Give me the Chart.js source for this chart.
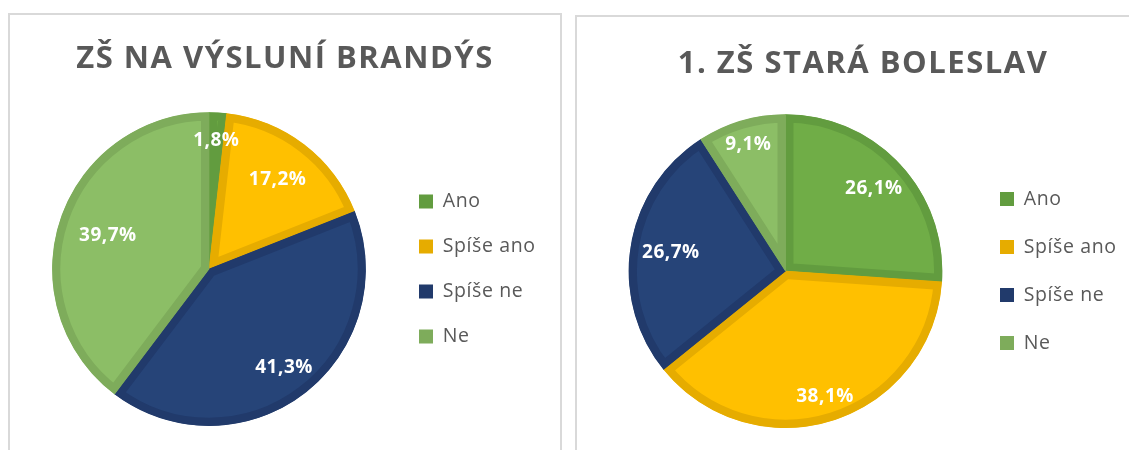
<!DOCTYPE html>
<html><head><meta charset="utf-8">
<script src="https://cdn.jsdelivr.net/npm/chart.js@4.4.1/dist/chart.umd.min.js"></script>
<style>
html,body{margin:0;padding:0;width:1129px;height:450px;overflow:hidden;background:#fff;}
.frame{position:absolute;border:2px solid #d9d9d9;box-sizing:border-box;}
.wrap{position:absolute;top:0;height:450px;}
canvas{display:block;}
</style></head><body>
<div class="frame" style="left:8px;top:13px;width:554px;height:460px"></div>
<div class="frame" style="left:575px;top:15px;width:580px;height:460px"></div>
<div class="wrap" style="left:0;width:570px"><canvas id="c1" width="570" height="450"></canvas></div>
<div class="wrap" style="left:570px;width:584px"><canvas id="c2" width="584" height="450"></canvas></div>
<script>
// ---- data ----
const categories = ['Ano', 'Spíše ano', 'Spíše ne', 'Ne'];
const brandysValues = [1.8, 17.2, 41.3, 39.7];
const boleslavValues = [26.1, 38.1, 26.7, 9.1];
const chartTitles = ['ZŠ NA VÝSLUNÍ BRANDÝS', '1. ZŠ STARÁ BOLESLAV'];

// ---- styles ----
const fillColors = ['#70AD47', '#FFC000', '#264478', '#8CBE66'];
const edgeColors = ['#629C3F', '#E6AC00', '#213A6B', '#7EAC5B'];
const FONT = "'Open Sans', 'DejaVu Sans', sans-serif";
const TEXT = '#595959';
const LEG_FS = 19.5, BOX = 14;
const TITLE_SPACING = '1.5px', LEG_SPACING = '0.6px', LABEL_SPACING = '0.5px';
// label distance from centre, as a fraction of the radius (Excel "best fit" look)
const brandysLabelRadius = [0.82, 0.72, 0.79, 0.68];
const boleslavLabelRadius = [0.77, 0.84, 0.74, 0.84];

function withSpacing(obj, fn, spacing, ctxGetter) {
  const orig = obj[fn].bind(obj);
  obj[fn] = function (...a) {
    const ctx = ctxGetter();
    const prev = ctx.letterSpacing;
    ctx.letterSpacing = spacing;
    const r = orig(...a);
    ctx.letterSpacing = prev || '0px';
    return r;
  };
}

const spacingPlugin = {
  id: 'letterSpacing',
  beforeLayout(chart) {
    if (chart.$spacingPatched) return;
    chart.$spacingPatched = true;
    const g = () => chart.ctx;
    if (chart.titleBlock) withSpacing(chart.titleBlock, 'draw', TITLE_SPACING, g);
    if (chart.legend) {
      withSpacing(chart.legend, 'fit', LEG_SPACING, g);
      withSpacing(chart.legend, 'draw', LEG_SPACING, g);
    }
  }
};

const labelPlugin = {
  id: 'sliceLabels',
  afterDatasetsDraw(chart, args, opts) {
    const ctx = chart.ctx;
    const meta = chart.getDatasetMeta(0);
    const vals = chart.data.datasets[0].data;
    const radii = opts.radii || [];
    ctx.save();
    ctx.letterSpacing = LABEL_SPACING;
    ctx.font = 'bold 19px ' + FONT;
    ctx.fillStyle = '#ffffff';
    ctx.textAlign = 'center';
    ctx.textBaseline = 'middle';
    meta.data.forEach((arc, i) => {
      const p = arc.getProps(['x', 'y', 'startAngle', 'endAngle', 'outerRadius'], true);
      const mid = (p.startAngle + p.endAngle) / 2;
      const r = p.outerRadius * (radii[i] || 0.76);
      ctx.fillText(vals[i].toFixed(1).replace('.', ',') + '%', p.x + Math.cos(mid) * r, p.y + Math.sin(mid) * r);
    });
    ctx.letterSpacing = '0px';
    ctx.restore();
  }
};

function textWidth(str) {
  const c = document.createElement('canvas').getContext('2d');
  c.font = LEG_FS + 'px ' + FONT;
  c.letterSpacing = LEG_SPACING;
  return c.measureText(str).width;
}

function makeChart(id, title, values, labelRadii, geo) {
  const W = document.getElementById(id).width;
  const tw = Math.max(...categories.map(textWidth));
  const legendLeft = geo.boxX - geo.legPad;
  const legendW = geo.legPad + BOX + LEG_FS / 2 + tw + 10;
  const padR = W - legendLeft - legendW;
  const padL = 2 * geo.cx - legendLeft;
  return new Chart(document.getElementById(id), {
    type: 'pie',
    data: {
      labels: categories,
      datasets: [{
        data: values,
        backgroundColor: fillColors,
        borderColor: edgeColors,
        borderWidth: 8,
        borderAlign: 'inner',
        hoverOffset: 0
      }]
    },
    options: {
      responsive: false,
      animation: false,
      events: [],
      layout: { padding: { left: padL, right: padR, top: 0, bottom: geo.padB } },
      plugins: {
        title: {
          display: true,
          text: title,
          color: TEXT,
          font: { family: FONT, size: 31, weight: 'bold' },
          padding: { top: geo.titleTop, bottom: geo.titleBottom }
        },
        legend: {
          display: true,
          position: 'right',
          fullSize: false,
          align: 'center',
          labels: {
            color: TEXT,
            font: { family: FONT, size: LEG_FS },
            boxWidth: BOX,
            boxHeight: BOX,
            padding: geo.legPad,
            generateLabels(chart) {
              const items = Chart.overrides.pie.plugins.legend.labels.generateLabels(chart);
              items.forEach((it, i) => { it.fillStyle = edgeColors[i]; it.strokeStyle = edgeColors[i]; it.lineWidth = 0; });
              return items;
            }
          }
        },
        sliceLabels: { radii: labelRadii },
        tooltip: { enabled: false }
      }
    },
    plugins: [spacingPlugin, labelPlugin]
  });
}

makeChart('c1', chartTitles[0], brandysValues, brandysLabelRadius,
  { cx: 209, boxX: 419, legPad: 25.5, padB: 24, titleTop: 41, titleBottom: 34 });
makeChart('c2', chartTitles[1], boleslavValues, boleslavLabelRadius,
  { cx: 215.5, boxX: 430, legPad: 28.5, padB: 22, titleTop: 46, titleBottom: 31 });
</script>
</body></html>
